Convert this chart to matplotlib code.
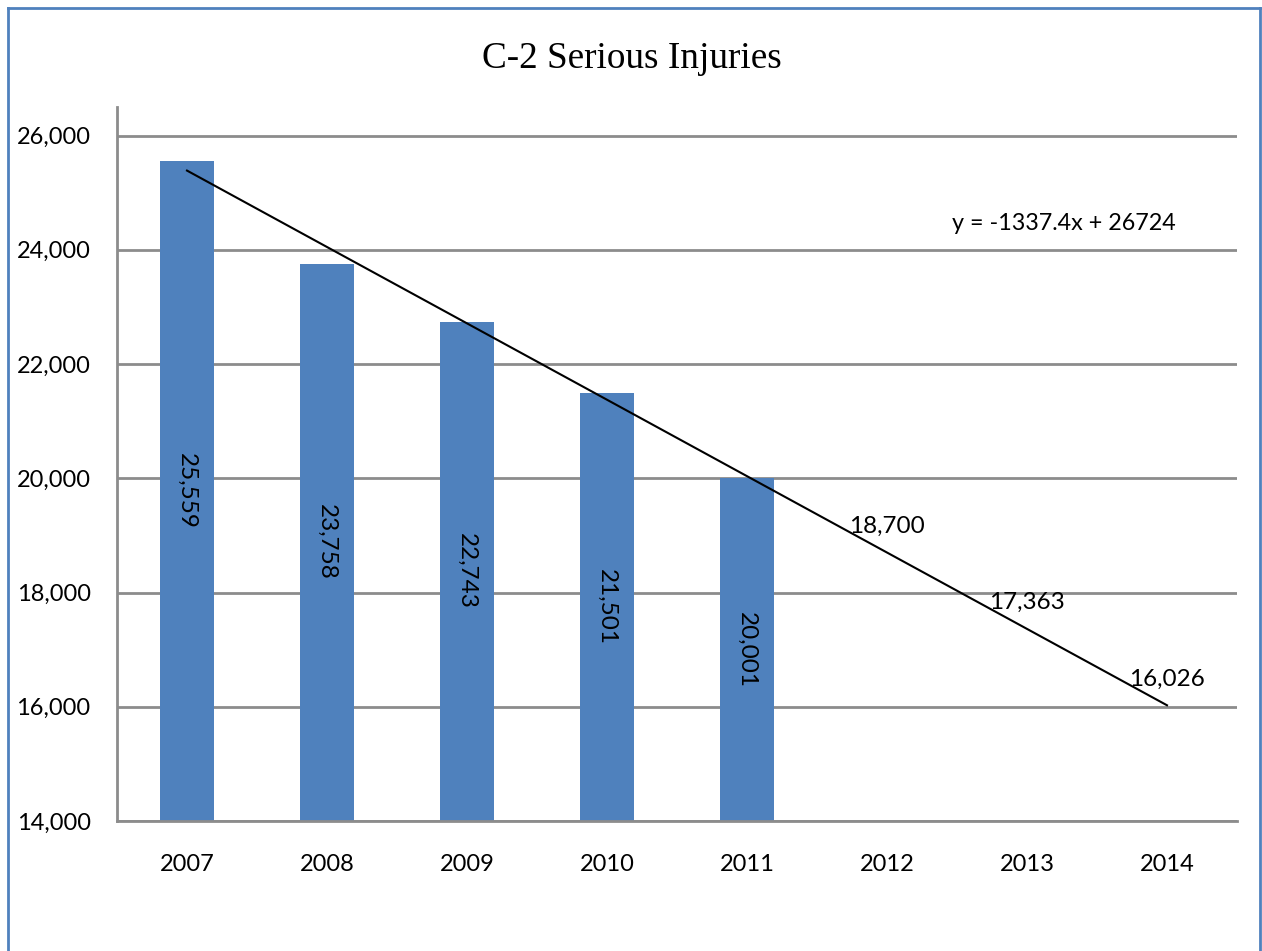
import matplotlib
matplotlib.use("Agg")
import matplotlib.pyplot as plt
from matplotlib.lines import Line2D
from matplotlib.ticker import FuncFormatter

years = ["2007", "2008", "2009", "2010", "2011", "2012", "2013", "2014"]
injuries = [25559, 23758, 22743, 21501, 20001]
# linear trend shown in the chart (y = -1337.4x + 26724), values as read/labelled
trend = [25387, 24049, 22712, 21375, 20037, 18700, 17363, 16026]
trend_labels = ["18,700", "17,363", "16,026"]
equation = "y = -1337.4x + 26724"

BAR = "#4F81BD"
GRID = "#8C8C8C"
SANS = ["Lato", "DejaVu Sans"]

fig = plt.figure(figsize=(12.62, 9.51), dpi=100)
ax = fig.add_axes([117 / 1262, 1 - 821 / 951, 1120 / 1262, 714 / 951])

x = list(range(len(years)))
bars = ax.bar(x[:len(injuries)], injuries, width=0.39, color=BAR, zorder=2)
ax.plot(x, trend, color="black", linewidth=1.5, zorder=3)

for b, v in zip(bars, injuries):
    ax.text(b.get_x() + b.get_width() / 2, (14000 + v) / 2, f"{v:,}",
            rotation=270, ha="center", va="center", fontsize=17.5,
            family=SANS, zorder=4)

for xi, yi, lab in zip(x[len(injuries):], trend[len(injuries):], trend_labels):
    ax.annotate(lab, (xi, yi), xytext=(0, 19), textcoords="offset points",
                ha="center", va="center", fontsize=17.5, family=SANS, zorder=4)

ax.text(0.845, 0.8375, equation, transform=ax.transAxes, ha="center",
        va="center", fontsize=16.8, family=SANS)

ax.set_xlim(-0.5, 7.5)
ax.set_ylim(14000, 26500)
ax.set_yticks(range(14000, 26001, 2000))
ax.yaxis.set_major_formatter(FuncFormatter(lambda v, p: f"{int(v):,}"))
ax.set_xticks(x)
ax.set_xticklabels(years)
ax.tick_params(axis="both", length=0, labelsize=17)
ax.tick_params(axis="x", pad=24)
ax.tick_params(axis="y", pad=19)
for lab in ax.get_xticklabels() + ax.get_yticklabels():
    lab.set_family(SANS)

ax.grid(axis="y", color=GRID, linewidth=2, zorder=0)
ax.set_axisbelow(True)
for s in ["top", "right"]:
    ax.spines[s].set_visible(False)
for s in ["left", "bottom"]:
    ax.spines[s].set_color(GRID)
    ax.spines[s].set_linewidth(2)

fig.text(632 / 1262, 1 - 59 / 951, "C-2 Serious Injuries", ha="center",
         va="center", fontsize=26.8, family="Liberation Serif")

# blue frame around the chart (no bottom edge visible)
fw, fh = 1262, 951
for xs, ys in [([8, 8], [8, fh + 5]), ([8, 1260], [8, 8]), ([1260, 1260], [8, fh + 5])]:
    fig.add_artist(Line2D([v / fw for v in xs], [1 - v / fh for v in ys],
                          color=BAR, linewidth=2, transform=fig.transFigure))

fig.savefig("out.png", dpi=100)
